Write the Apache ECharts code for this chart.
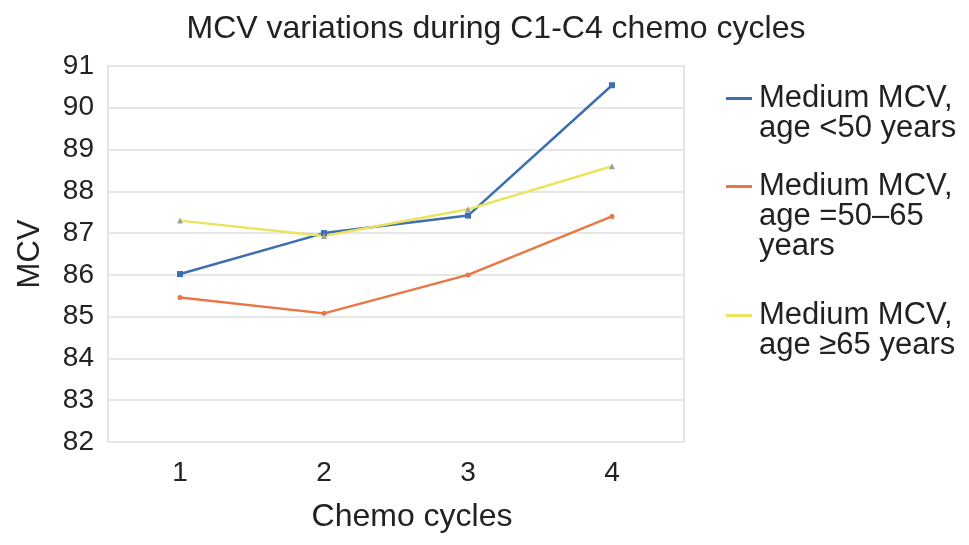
<!DOCTYPE html>
<html>
<head>
<meta charset="utf-8">
<script src="https://cdn.jsdelivr.net/npm/echarts@6/dist/echarts.min.js"></script>
<style>html,body{margin:0;padding:0;background:#fff}#c{width:969px;height:545px}</style>
</head>
<body>
<div id="c"></div>
<script>
const categories = ['1', '2', '3', '4'];
const seriesNames = ['Medium MCV,\nage <50 years', 'Medium MCV,\nage =50\u201365\nyears', 'Medium MCV,\nage \u226565 years'];
const under50 = [86.02, 87.0, 87.42, 90.54];
const age50to65 = [85.46, 85.08, 86.0, 87.4];
const over65 = [87.3, 86.93, 87.57, 88.6];
const yTicks = { min: 82, max: 91, interval: 1 };

const colors = ['#3c6eb0', '#ea7645', '#ece35c'];
const markerColors = ['#3c6eb0', '#ea7645', '#a0a0a0'];
const font = 'Liberation Sans, Arial, Helvetica, sans-serif';
const legendTops = [78, 166, 295];

const rich = {
  t: { fontFamily: font, fontSize: 31, color: '#222', lineHeight: 30 },
  g: { width: 7, height: 3 },
  sp: { width: 33, height: 3 }
};
colors.forEach((c, i) => { rich['b' + i] = { width: 26, height: 3, backgroundColor: c }; });

function legendFor(i) {
  return {
    orient: 'vertical', left: 716, top: legendTops[i],
    data: [seriesNames[i]],
    itemWidth: 0, itemHeight: 0, icon: 'rect',
    itemStyle: { opacity: 0 }, lineStyle: { opacity: 0 },
    formatter: function (name) {
      const lines = name.split('\n');
      return lines.map((l, k) => (k === 0 ? '{b' + i + '|}{g|}' : '{sp|}') + '{t|' + l + '}').join('\n');
    },
    textStyle: { fontFamily: font, fontSize: 31, color: '#222', lineHeight: 30, rich: rich }
  };
}

const chart = echarts.init(document.getElementById('c'));
chart.setOption({
  animation: false,
  title: {
    text: 'MCV variations during C1-C4 chemo cycles',
    left: 491, top: 8, textAlign: 'center',
    textStyle: { fontFamily: font, fontSize: 32, fontWeight: 'normal', color: '#222' }
  },
  legend: [legendFor(0), legendFor(1), legendFor(2)],
  grid: {
    left: 108, right: 285, top: 66, bottom: 103, outerBoundsMode: 'none', containLabel: false,
    show: true, borderColor: '#e4e4e4', borderWidth: 2, backgroundColor: 'transparent'
  },
  xAxis: {
    type: 'category', data: categories, boundaryGap: true,
    name: 'Chemo cycles', nameLocation: 'middle', nameGap: 59,
    nameTextStyle: { fontFamily: font, fontSize: 32, color: '#222', padding: [0, 0, 0, 32] },
    axisLine: { show: false },
    axisTick: { show: false },
    axisLabel: { fontFamily: font, fontSize: 28, color: '#222', margin: 17 },
    splitLine: { show: false }
  },
  yAxis: {
    type: 'value', min: yTicks.min, max: yTicks.max, interval: yTicks.interval,
    name: 'MCV', nameLocation: 'middle', nameGap: 62,
    nameTextStyle: { fontFamily: font, fontSize: 31, color: '#222' },
    axisLine: { show: false },
    axisTick: { show: false },
    axisLabel: { fontFamily: font, fontSize: 28, color: '#222', margin: 14 },
    splitLine: { lineStyle: { color: '#e6e6e6', width: 2 } }
  },
  series: [
    { name: seriesNames[0], type: 'line', data: under50, symbol: 'rect', symbolSize: 6,
      lineStyle: { color: colors[0], width: 2.5 }, itemStyle: { color: markerColors[0] } },
    { name: seriesNames[1], type: 'line', data: age50to65, symbol: 'circle', symbolSize: 5,
      lineStyle: { color: colors[1], width: 2.4 }, itemStyle: { color: markerColors[1] } },
    { name: seriesNames[2], type: 'line', data: over65, symbol: 'triangle', symbolSize: 6,
      lineStyle: { color: colors[2], width: 2.4 }, itemStyle: { color: markerColors[2] } }
  ]
});
</script>
</body>
</html>
